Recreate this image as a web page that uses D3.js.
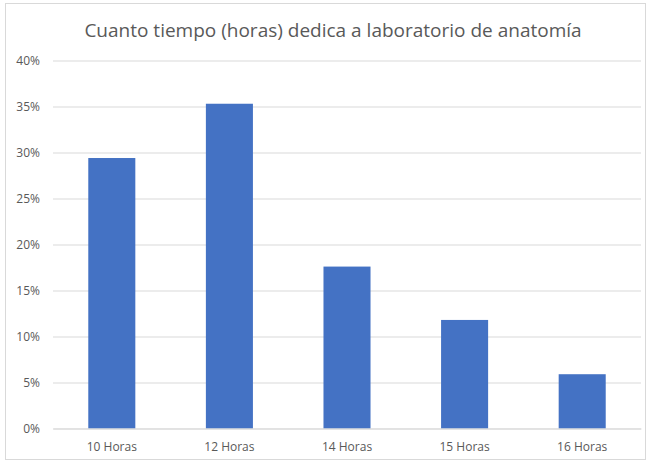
<!DOCTYPE html>
<html><head><meta charset="utf-8">
<script src="https://cdn.jsdelivr.net/npm/d3@7"></script>
<style>body{margin:0;background:#fff}svg{display:block}</style>
</head><body>
<svg id="c" width="648" height="462"></svg>
<script>
const categories = ["10 Horas","12 Horas","14 Horas","15 Horas","16 Horas"];
const values = [0.294, 0.353, 0.176, 0.118, 0.059];
const yTicks = [0,0.05,0.10,0.15,0.20,0.25,0.30,0.35,0.40];
const title = "Cuanto tiempo (horas) dedica a laboratorio de anatomía";

(function(){
const svg = d3.select("#c");
const font = "'Open Sans', 'Liberation Sans', sans-serif";
const mLeft = 53, mRight = 641, mTop = 60.5, mBottom = 428.5;

svg.append("rect").attr("x",5.5).attr("y",3.5).attr("width",640).attr("height",456)
  .attr("fill","#fff").attr("stroke","#d9d9d9");

svg.append("text").attr("x",333).attr("y",37).attr("text-anchor","middle")
  .attr("font-family",font).attr("font-size",19).attr("fill","#595959").text(title);

const x = d3.scaleBand().domain(categories).range([mLeft,mRight]).paddingInner(0.6).paddingOuter(0.3);
const y = d3.scaleLinear().domain([0,0.4]).range([mBottom,mTop]);

const yAxis = d3.axisLeft(y).tickValues(yTicks).tickFormat(d3.format(".0%")).tickSize(-(mRight-mLeft)).tickPadding(13);
const gy = svg.append("g").attr("transform",`translate(${mLeft},0)`).call(yAxis);
gy.select(".domain").remove();
gy.selectAll(".tick line").attr("stroke","#d9d9d9");
gy.selectAll(".tick text").attr("font-family",font).attr("font-size",12).attr("fill","#595959");

svg.append("g").selectAll("rect").data(values).join("rect")
  .attr("x",(d,i)=>x(categories[i])).attr("width",x.bandwidth())
  .attr("y",d=>y(d)).attr("height",d=>y(0)-y(d)).attr("fill","#4472C4");

const xAxis = d3.axisBottom(x).tickSize(0).tickPadding(14);
const gx = svg.append("g").attr("transform",`translate(0,${mBottom})`).call(xAxis);
gx.select(".domain").attr("stroke","#d9d9d9");
gx.selectAll(".tick text").attr("font-family",font).attr("font-size",12).attr("fill","#595959");
})();
</script>
</body></html>
